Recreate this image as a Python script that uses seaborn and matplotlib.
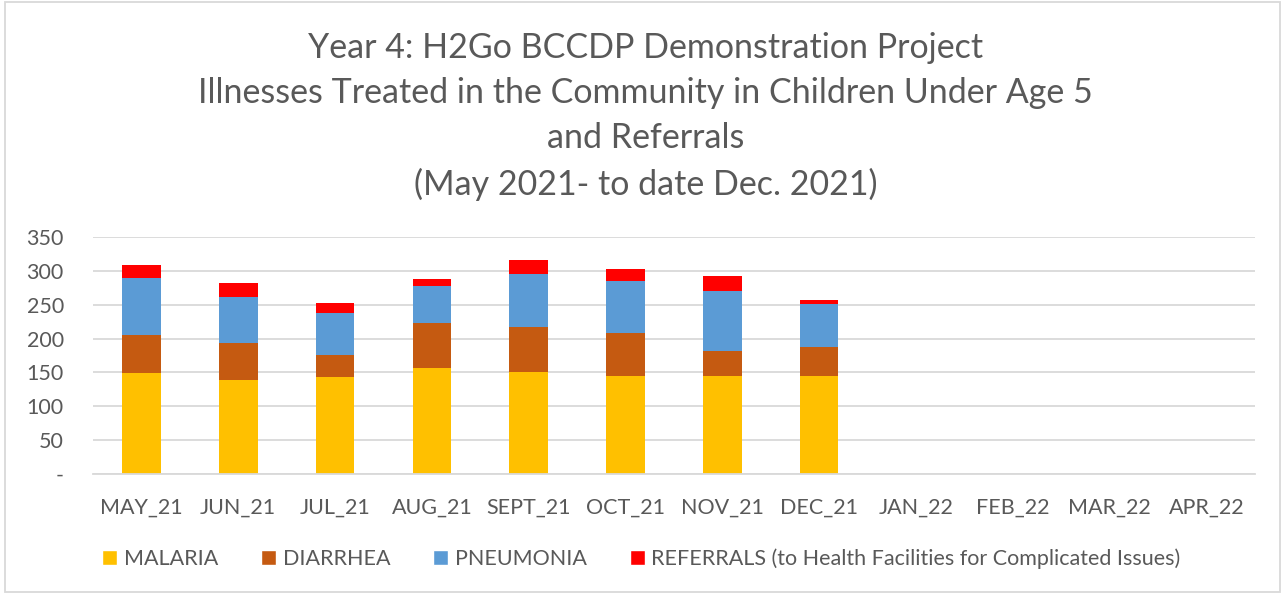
import numpy as np
import pandas as pd
import matplotlib
matplotlib.use("Agg")
import matplotlib.pyplot as plt
from matplotlib.patches import Patch, Rectangle
import seaborn as sns

months = ["MAY_21", "JUN_21", "JUL_21", "AUG_21", "SEPT_21", "OCT_21",
          "NOV_21", "DEC_21", "JAN_22", "FEB_22", "MAR_22", "APR_22"]
malaria = [149, 139, 143, 157, 150, 145, 145, 145, None, None, None, None]
diarrhea = [56, 55, 33, 66, 67, 63, 37, 42, None, None, None, None]
pneumonia = [84, 68, 62, 55, 79, 77, 89, 64, None, None, None, None]
referrals = [20, 20, 15, 10, 20, 18, 21, 6, None, None, None, None]

series = ["MALARIA", "DIARRHEA", "PNEUMONIA",
          "REFERRALS (to Health Facilities for Complicated Issues)"]
colors = ["#FFC000", "#C55A11", "#5B9BD5", "#FF0000"]

df = pd.DataFrame({"month": months, "MALARIA": malaria, "DIARRHEA": diarrhea,
                   "PNEUMONIA": pneumonia, series[3]: referrals}).set_index("month")
df = df.astype(float)
cum = df.cumsum(axis=1).reset_index()

sns.set_theme(style="white")
plt.rcParams["font.family"] = ["Lato", "DejaVu Sans"]
grey = "#595959"

fig = plt.figure(figsize=(12.83, 5.94), dpi=100)
ax = fig.add_axes([0.0725, 0.202, 0.9055, 0.399])

# draw cumulative totals from the top layer down so they stack
for name, col in reversed(list(zip(series, colors))):
    sns.barplot(data=cum, x="month", y=name, order=months, color=col,
                width=0.4, saturation=1, linewidth=0, ax=ax)

ax.set_xlim(-0.5, 11.5)
ax.set_ylim(0, 350)
ax.set_yticks(range(0, 351, 50))
ax.set_yticklabels(["-"] + [str(v) for v in range(50, 351, 50)])
ax.yaxis.grid(True, color="#d9d9d9", linewidth=1.3)
ax.set_axisbelow(True)
ax.set_xlabel("")
ax.set_ylabel("")
for s in ["top", "right", "left"]:
    ax.spines[s].set_visible(False)
ax.spines["bottom"].set_color("#d9d9d9")
ax.spines["bottom"].set_linewidth(1.3)
ax.tick_params(axis="both", colors=grey, labelsize=15.5, length=0)
ax.tick_params(axis="x", pad=17)
ax.tick_params(axis="y", pad=21)
for lab in ax.get_yticklabels():
    lab.set_horizontalalignment("right")

fig.text(0.503, 0.804, "Year 4: H2Go BCCDP Demonstration Project\n"
         "Illnesses Treated in the Community in Children Under Age 5\n"
         "and Referrals\n(May 2021- to date Dec. 2021)",
         ha="center", va="center", fontsize=24.5, color=grey, linespacing=1.5)

handles = [Patch(facecolor=c, label=s) for s, c in zip(series, colors)]
fig.legend(handles=handles, loc="center", bbox_to_anchor=(0.5, 0.060), ncol=4,
           frameon=False, fontsize=15.5, labelcolor=grey, handlelength=0.7,
           handleheight=0.7, handletextpad=0.3, columnspacing=2.0)

fig.patches.append(Rectangle((0.004, 0.003), 0.994, 0.994, transform=fig.transFigure,
                             fill=False, edgecolor="#d9d9d9", linewidth=1.3))

fig.savefig("out.png", dpi=100)
